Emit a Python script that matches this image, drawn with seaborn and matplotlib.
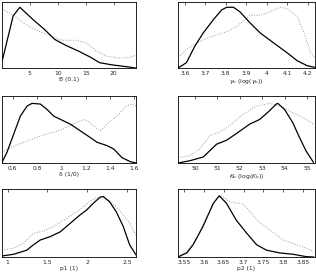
import matplotlib
matplotlib.use('Agg')
import matplotlib.pyplot as plt
import seaborn as sns

sns.set_style('white')
plt.rcParams['font.family'] = ['DejaVu Sans']
plt.rcParams['mathtext.fontset'] = 'dejavusans'

# Panel data: x positions and normalised density heights (solid = posterior, dotted = prior)
b_x_solid = [0.1, 2.0, 3.2, 5.6, 7.4, 9.5, 11.5, 13.6, 15.7, 17.5, 19.9, 22.3, 23.9]
b_y_solid = [0.13, 0.79, 0.92, 0.73, 0.60, 0.43, 0.34, 0.26, 0.17, 0.08, 0.045, 0.02, 0.0]
b_x_dot = [0.1, 2.0, 4.4, 6.8, 9.2, 10.7, 13.3, 15.1, 16.9, 18.7, 21.1, 22.9, 23.8]
b_y_dot = [0.89, 0.80, 0.65, 0.55, 0.47, 0.42, 0.42, 0.38, 0.26, 0.18, 0.15, 0.16, 0.19]

g_x_solid = [3.567, 3.608, 3.649, 3.69, 3.739, 3.78, 3.805, 3.838, 3.87, 3.92, 3.969,
             4.034, 4.10, 4.149, 4.198, 4.234]
g_y_solid = [0.0, 0.08, 0.33, 0.53, 0.73, 0.88, 0.92, 0.92, 0.85, 0.68, 0.53,
             0.38, 0.23, 0.11, 0.035, 0.01]
g_x_dot = [3.567, 3.608, 3.657, 3.723, 3.805, 3.854, 3.92, 3.969, 4.0, 4.034, 4.067,
           4.10, 4.149, 4.182, 4.215, 4.234]
g_y_dot = [0.16, 0.28, 0.38, 0.47, 0.55, 0.63, 0.80, 0.80, 0.83, 0.88, 0.92,
           0.90, 0.78, 0.53, 0.23, 0.16]

d_x_solid = [0.512, 0.553, 0.608, 0.663, 0.718, 0.759, 0.827, 0.882, 0.937, 1.005, 1.074,
             1.156, 1.238, 1.293, 1.375, 1.43, 1.499, 1.567, 1.614]
d_y_solid = [0.01, 0.16, 0.43, 0.70, 0.85, 0.89, 0.88, 0.80, 0.70, 0.64, 0.58,
             0.48, 0.38, 0.31, 0.26, 0.21, 0.08, 0.02, 0.0]
d_x_dot = [0.512, 0.58, 0.718, 0.855, 0.992, 1.10, 1.183, 1.225, 1.28, 1.32, 1.375,
           1.458, 1.54, 1.58, 1.614]
d_y_dot = [0.16, 0.23, 0.33, 0.42, 0.49, 0.58, 0.65, 0.62, 0.53, 0.48, 0.58,
           0.70, 0.86, 0.88, 0.85]

k_x_solid = [49.26, 49.78, 50.37, 50.96, 51.41, 51.85, 52.44, 52.89, 53.33, 53.63, 53.70,
             54.0, 54.37, 54.67, 54.96, 55.29]
k_y_solid = [0.0, 0.035, 0.09, 0.28, 0.34, 0.44, 0.58, 0.65, 0.78, 0.88, 0.89,
             0.80, 0.60, 0.38, 0.18, 0.01]
k_x_dot = [49.26, 49.78, 50.22, 50.67, 51.1, 51.56, 52.15, 52.74, 53.33, 53.78, 54.37,
           54.81, 55.29]
k_y_dot = [0.08, 0.11, 0.21, 0.41, 0.46, 0.56, 0.73, 0.85, 0.89, 0.85, 0.75,
           0.68, 0.58]

p1_x_solid = [0.93, 1.075, 1.24, 1.325, 1.41, 1.535, 1.66, 1.78, 1.91, 1.99, 2.075,
              2.16, 2.20, 2.28, 2.36, 2.45, 2.53, 2.61]
p1_y_solid = [0.015, 0.04, 0.10, 0.18, 0.25, 0.30, 0.37, 0.49, 0.62, 0.69, 0.79,
              0.88, 0.89, 0.81, 0.67, 0.45, 0.18, 0.03]
p1_x_dot = [0.93, 1.075, 1.20, 1.325, 1.45, 1.575, 1.74, 1.91, 2.03, 2.12, 2.20,
            2.28, 2.40, 2.53, 2.61]
p1_y_dot = [0.10, 0.13, 0.20, 0.35, 0.38, 0.45, 0.57, 0.70, 0.82, 0.87, 0.87,
            0.83, 0.69, 0.50, 0.32]

p2_x_solid = [3.535, 3.557, 3.573, 3.598, 3.624, 3.639, 3.657, 3.682, 3.708, 3.733,
              3.758, 3.791, 3.825, 3.858, 3.877]
p2_y_solid = [0.0, 0.06, 0.18, 0.45, 0.79, 0.90, 0.79, 0.54, 0.35, 0.18,
              0.10, 0.06, 0.04, 0.005, 0.0]
p2_x_dot = [3.535, 3.557, 3.582, 3.607, 3.632, 3.645, 3.666, 3.699, 3.716, 3.741,
            3.766, 3.80, 3.833, 3.858, 3.877]
p2_y_dot = [0.015, 0.08, 0.27, 0.59, 0.86, 0.90, 0.81, 0.78, 0.67, 0.50,
            0.40, 0.25, 0.18, 0.13, 0.08]

panels = [
    (b_x_solid, b_y_solid, b_x_dot, b_y_dot, (0, 24), [5, 10, 15, 20], 'B (0.1)'),
    (g_x_solid, g_y_solid, g_x_dot, g_y_dot, (3.567, 4.236),
     [3.6, 3.7, 3.8, 3.9, 4.0, 4.1, 4.2], r'$\gamma_b$ (log($\gamma_b$))'),
    (d_x_solid, d_y_solid, d_x_dot, d_y_dot, (0.512, 1.614),
     [0.6, 0.8, 1.0, 1.2, 1.4, 1.6], 'δ (1/0)'),
    (k_x_solid, k_y_solid, k_x_dot, k_y_dot, (49.24, 55.36),
     [50, 51, 52, 53, 54, 55], r'$K_b$ (log($K_b$))'),
    (p1_x_solid, p1_y_solid, p1_x_dot, p1_y_dot, (0.93, 2.61),
     [1, 1.5, 2, 2.5], 'p1 (1)'),
    (p2_x_solid, p2_y_solid, p2_x_dot, p2_y_dot, (3.535, 3.88),
     [3.55, 3.6, 3.65, 3.7, 3.75, 3.8, 3.85], 'p2 (1)'),
]
tick_text = [
    ['5', '10', '15', '20'],
    ['3.6', '3.7', '3.8', '3.9', '4', '4.1', '4.2'],
    ['0.6', '0.8', '1', '1.2', '1.4', '1.6'],
    ['50', '51', '52', '53', '54', '55'],
    ['1', '1.5', '2', '2.5'],
    ['3.55', '3.6', '3.65', '3.7', '3.75', '3.8', '3.85'],
]

fig = plt.figure(figsize=(3.16, 2.73), dpi=100)
W, H = 316.0, 273.0
cols = [(2, 134), (178, 137)]
rows = [(2, 68), (96, 163), (189, 257)]

for i, (xs, ys, xd, yd, xlim, ticks, label) in enumerate(panels):
    r, c = divmod(i, 2)
    left, width = cols[c]
    top, bottom = rows[r]
    ax = fig.add_axes([left / W, 1 - bottom / H, width / W, (bottom - top) / H])
    sns.lineplot(x=xd, y=yd, ax=ax, color='#9a9a9a', linestyle=(0, (1, 1.6)),
                 linewidth=0.7, sort=False, estimator=None)
    sns.lineplot(x=xs, y=ys, ax=ax, color='black', linewidth=0.9,
                 sort=False, estimator=None)
    ax.set_xlim(*xlim)
    ax.set_ylim(0, 1)
    ax.set_xticks(ticks)
    ax.set_xticklabels(tick_text[i])
    ax.set_yticks([])
    ax.tick_params(axis='x', direction='in', length=2, width=0.5, top=True,
                   labelsize=4.3, pad=2)
    ax.set_xlabel(label, fontsize=4.3, labelpad=1)
    ax.set_ylabel('')
    for s in ax.spines.values():
        s.set_visible(True)
        s.set_color('black')
        s.set_linewidth(0.6)

fig.savefig('out.png', dpi=100)
